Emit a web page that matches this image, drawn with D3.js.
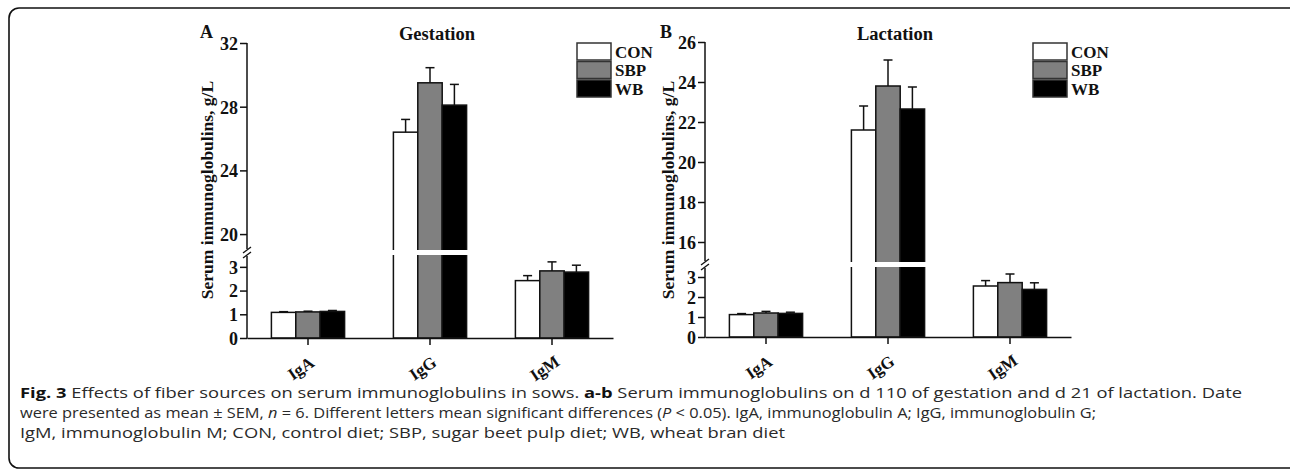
<!DOCTYPE html>
<html>
<head>
<meta charset="utf-8">
<script src="https://cdn.jsdelivr.net/npm/d3@7"></script>
<style>
  body { margin: 0; background: #fff; }
  svg { display: block; }
  .serif { font-family: "Liberation Serif", "Times New Roman", serif; font-weight: bold; fill: #111; }
  .cap { font-family: "Open Sans", "Noto Sans", sans-serif; font-size: 15px; fill: #2a2a2a; }
</style>
</head>
<body>
<div id="chart"></div>
<script>
// data
var categories = ["IgA", "IgG", "IgM"];
var series = ["CON", "SBP", "WB"];
var seriesColors = ["#ffffff", "#808080", "#000000"];

var gestationCON = [1.08, 26.4, 2.42];
var gestationSBP = [1.10, 29.5, 2.83];
var gestationWB  = [1.12, 28.1, 2.78];
var gestationSemCON = [0.03, 0.8, 0.21];
var gestationSemSBP = [0.03, 0.95, 0.38];
var gestationSemWB  = [0.04, 1.3, 0.29];

var lactationCON = [1.12, 21.6, 2.55];
var lactationSBP = [1.20, 23.8, 2.72];
var lactationWB  = [1.18, 22.65, 2.38];
var lactationSemCON = [0.05, 1.2, 0.27];
var lactationSemSBP = [0.08, 1.3, 0.43];
var lactationSemWB  = [0.06, 1.1, 0.33];

var lowerTicks = [0, 1, 2, 3];
var gestationUpperTicks = [20, 24, 28, 32];
var lactationUpperTicks = [16, 18, 20, 22, 24, 26];

var W = 1290, H = 472;
var svg = d3.select("#chart").append("svg").attr("width", W).attr("height", H);

// outer frame
svg.append("rect")
  .attr("x", 9).attr("y", 8).attr("width", 1320).attr("height", 460)
  .attr("rx", 10).attr("ry", 10)
  .style("fill", "none").style("stroke", "#111").style("stroke-width", 1.6);

function drawPanel(cfg) {
  var g = svg.append("g");
  var means = [cfg.con, cfg.sbp, cfg.wb];
  var sems = [cfg.semCon, cfg.semSbp, cfg.semWb];

  var x = d3.scaleBand().domain(categories).range([cfg.x0, cfg.x1]).paddingInner(0.4).paddingOuter(0.2);
  var xs = d3.scaleBand().domain(series).range([0, x.bandwidth()]);
  var yLow = d3.scaleLinear().domain([0, 3.5]).range([cfg.yZero, cfg.lowTop]);
  var yHigh = d3.scaleLinear().domain(cfg.upperDomain).range([cfg.upBottom, cfg.upTop]);
  var y = function(v){ return v <= 3.5 ? yLow(v) : yHigh(v); };

  // bars
  series.forEach(function(s, si){
    categories.forEach(function(c, ci){
      var v = means[si][ci], e = sems[si][ci];
      var bx = x(c) + xs(s);
      g.append("rect")
        .attr("x", bx).attr("y", y(v))
        .attr("width", xs.bandwidth()).attr("height", yLow(0) - y(v))
        .style("fill", seriesColors[si]).style("stroke", "#111").style("stroke-width", 1.5);
      var cx = bx + xs.bandwidth() / 2;
      g.append("line").attr("x1", cx).attr("x2", cx).attr("y1", y(v)).attr("y2", y(v + e))
        .style("stroke", "#111").style("stroke-width", 1.5);
      g.append("line").attr("x1", cx - 4.5).attr("x2", cx + 4.5).attr("y1", y(v + e)).attr("y2", y(v + e))
        .style("stroke", "#111").style("stroke-width", 1.5);
    });
  });

  // white gap through bars that cross the break
  categories.forEach(function(c, ci){
    var crosses = means.some(function(m){ return m[ci] > 3.5; });
    if (crosses) {
      g.append("rect")
        .attr("x", x(c) - 2).attr("y", yHigh(cfg.upperDomain[0]))
        .attr("width", x.bandwidth() + 4).attr("height", yLow(3.5) - yHigh(cfg.upperDomain[0]))
        .style("fill", "#fff");
    }
  });

  // y axes (lower and upper segment)
  var axLow = g.append("g").attr("transform", "translate(" + cfg.x0 + ",0)")
    .call(d3.axisLeft(yLow).tickValues(lowerTicks).tickSize(7).tickFormat(d3.format("d")));
  var axHigh = g.append("g").attr("transform", "translate(" + cfg.x0 + ",0)")
    .call(d3.axisLeft(yHigh).tickValues(cfg.upperTicks).tickSize(7).tickFormat(d3.format("d")));
  [axLow, axHigh].forEach(function(a){
    a.select(".domain").remove();
    a.selectAll(".tick line").style("stroke", "#111").style("stroke-width", 1.5);
    a.selectAll(".tick text").attr("class", "serif").style("font-size", "18px").attr("x", -9).attr("dy", "0.35em");
  });
  g.append("line").attr("x1", cfg.x0).attr("x2", cfg.x0).attr("y1", yLow(0) + 0.75).attr("y2", yLow(3.5) + 1)
    .style("stroke", "#111").style("stroke-width", 1.5);
  g.append("line").attr("x1", cfg.x0).attr("x2", cfg.x0).attr("y1", yHigh(cfg.upperDomain[0]) - 1).attr("y2", yHigh(cfg.upperDomain[1]))
    .style("stroke", "#111").style("stroke-width", 1.5);
  // break marks
  var bm = (yLow(3.5) + yHigh(cfg.upperDomain[0])) / 2;
  [-2.5, 2.5].forEach(function(o){
    g.append("line")
      .attr("x1", cfg.x0 - 4).attr("x2", cfg.x0 + 4)
      .attr("y1", bm + o + 3).attr("y2", bm + o - 3)
      .style("stroke", "#111").style("stroke-width", 1.3);
  });

  // x axis
  var axX = g.append("g").attr("transform", "translate(0," + yLow(0) + ")")
    .call(d3.axisBottom(x).tickSize(7).tickSizeOuter(0));
  axX.select(".domain").style("stroke", "#111").style("stroke-width", 1.5);
  axX.selectAll(".tick line").style("stroke", "#111").style("stroke-width", 1.5);
  axX.selectAll(".tick text").attr("class", "serif").style("font-size", "17px")
    .attr("y", 0).attr("dy", 0)
    .attr("text-anchor", "middle")
    .attr("transform", "translate(-4,35) rotate(-34)");

  // y label
  g.append("text").attr("class", "serif").style("font-size", "17.5px")
    .attr("text-anchor", "middle")
    .attr("transform", "translate(" + cfg.labelX + "," + cfg.labelY + ") rotate(-90)")
    .text("Serum immunoglobulins, g/L");

  // panel letter and title
  g.append("text").attr("class", "serif").style("font-size", "18px")
    .attr("x", cfg.letterX).attr("y", 38).text(cfg.letter);
  g.append("text").attr("class", "serif").style("font-size", "18.5px")
    .attr("text-anchor", "middle").attr("x", (cfg.x0 + cfg.x1) / 2 + 7).attr("y", 40).text(cfg.title);

  // legend
  var lg = g.append("g").attr("transform", "translate(" + cfg.legendX + ",43)");
  series.forEach(function(s, i){
    lg.append("rect").attr("x", 0).attr("y", i * 18.5).attr("width", 34).attr("height", 17)
      .style("fill", seriesColors[i]).style("stroke", "#333").style("stroke-width", 1.5);
    lg.append("text").attr("class", "serif").style("font-size", "17px")
      .attr("x", 38).attr("y", i * 18.5 + 14.5).text(s);
  });
}

drawPanel({
  letter: "A", title: "Gestation", letterX: 200,
  con: gestationCON, sbp: gestationSBP, wb: gestationWB,
  semCon: gestationSemCON, semSbp: gestationSemSBP, semWb: gestationSemWB,
  x0: 247, x1: 613, yZero: 338, lowTop: 255, upBottom: 250, upTop: 43,
  upperDomain: [19, 32], upperTicks: gestationUpperTicks,
  labelX: 213, labelY: 190, legendX: 577
});

drawPanel({
  letter: "B", title: "Lactation", letterX: 660,
  con: lactationCON, sbp: lactationSBP, wb: lactationWB,
  semCon: lactationSemCON, semSbp: lactationSemSBP, semWb: lactationSemWB,
  x0: 705, x1: 1071, yZero: 337, lowTop: 267, upBottom: 262, upTop: 42,
  upperDomain: [15, 26], upperTicks: lactationUpperTicks,
  labelX: 674, labelY: 190, legendX: 1033
});

// caption
var cap = svg.append("text").attr("class", "cap").attr("x", 20).attr("y", 398)
  .attr("textLength", 1222).attr("lengthAdjust", "spacingAndGlyphs");
cap.append("tspan").style("font-weight", "bold").style("fill", "#111").text("Fig. 3");
cap.append("tspan").text(" Effects of fiber sources on serum immunoglobulins in sows. ");
cap.append("tspan").style("font-weight", "bold").style("fill", "#111").text("a-b");
cap.append("tspan").text(" Serum immunoglobulins on d 110 of gestation and d 21 of lactation. Date");

var cap2 = svg.append("text").attr("class", "cap").attr("x", 20).attr("y", 418)
  .attr("textLength", 1076).attr("lengthAdjust", "spacingAndGlyphs");
cap2.append("tspan").text("were presented as mean \u00b1 SEM, ");
cap2.append("tspan").style("font-style", "italic").text("n");
cap2.append("tspan").text(" = 6. Different letters mean significant differences (");
cap2.append("tspan").style("font-style", "italic").text("P");
cap2.append("tspan").text(" < 0.05). IgA, immunoglobulin A; IgG, immunoglobulin G;");

svg.append("text").attr("class", "cap").attr("x", 20).attr("y", 438)
  .attr("textLength", 765).attr("lengthAdjust", "spacingAndGlyphs")
  .text("IgM, immunoglobulin M; CON, control diet; SBP, sugar beet pulp diet; WB, wheat bran diet");
</script>
</body>
</html>
